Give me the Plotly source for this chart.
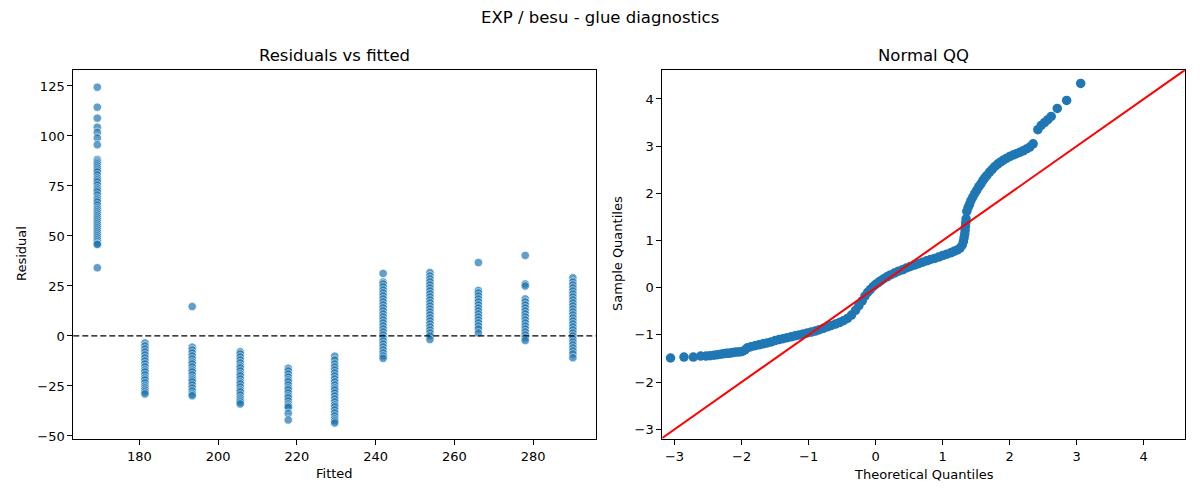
import plotly.graph_objects as go

# residuals vs fitted: one column of residuals per fitted level
fitted_levels = [169.3, 181.4, 193.4, 205.6, 217.8, 229.6, 241.9, 253.8, 266.1, 278.0, 290.1]
residual_cols = [
    [124.4, 114.4, 108.9, 104.4, 101.8, 99.0, 95.6, 88.3, 87.5, 86.8, 86, 85, 84, 83, 82, 80.5,
     79, 78, 77, 75.5, 74, 73, 72, 70.5, 69, 68, 67, 65.5, 64, 63, 62, 61, 60, 59, 58, 57, 56,
     55, 54, 53, 52, 51, 50, 49, 48, 47, 46, 45.8, 34.1],
    [-3.5, -5, -6.5, -8, -9.5, -11, -12.5, -14, -15.5, -17, -18, -19.5, -21, -22, -23.5, -25,
     -26, -27, -28, -29],
    [14.7, -5.6, -7, -8.5, -10, -11.5, -13, -14, -15.5, -17, -18, -19.5, -21, -22, -23, -24.5,
     -26, -27.5, -29, -29.9],
    [-7.9, -9, -10.5, -12, -13.5, -15, -16, -17.5, -19, -20, -21.5, -23, -24, -25.5, -27, -28,
     -29.5, -31, -32, -33, -34],
    [-16.2, -17.5, -19, -20.5, -22, -23, -24.5, -26, -27, -28.5, -30, -31, -32.5, -34, -35,
     -35.7, -38.7, -42],
    [-10.1, -12, -14, -15.5, -17, -18.5, -20, -21.5, -23, -24.5, -26, -27, -28.5, -30, -31.5,
     -33, -34.5, -35.5, -37, -38.5, -40, -41.5, -42.5, -43.5],
    [31.3, 27, 26, 24.5, 23, 21.5, 20, 18.5, 17, 15.5, 14, 12.5, 11, 9.5, 8, 6.5, 5, 3.5, 2,
     0.5, -1, -2.5, -4, -5.5, -7, -8.5, -10, -11.2],
    [31.7, 30, 28.5, 27, 25.5, 24, 22.5, 21, 19.5, 18, 16.5, 15, 13.5, 12, 10.5, 9, 7.5, 6,
     4.5, 3, 1.5, 0, -1.8],
    [36.7, 22.7, 21.5, 20, 18.5, 17, 15.5, 14, 12.5, 11, 9.5, 8, 6.5, 5, 3.5, 1.5],
    [40.3, 26, 25, 18.5, 17, 15.5, 14, 12.5, 11, 9.5, 8, 6.5, 5, 3.5, 2, 0.5, -1, -2.3],
    [29.1, 27, 25.5, 24, 22.5, 21, 19.5, 18, 16.5, 15, 13.5, 12, 10.5, 9, 7.5, 6, 4.5, 3, 1.5,
     0, -1.5, -3, -4.5, -6, -7.5, -9, -10.9],
]

# normal QQ points (theoretical, sample)
qq_theo = [-3.06, -2.86, -2.72, -2.61, -2.53, -2.47, -2.41, -2.36, -2.31, -2.27, -2.23, -2.19,
           -2.15, -2.11, -2.07, -2.03, -1.99, -1.95, -1.91, -1.86, -1.80, -1.74, -1.68, -1.62,
           -1.56, -1.50, -1.44, -1.38, -1.32, -1.26, -1.20, -1.14, -1.08, -1.02, -0.96, -0.90,
           -0.84, -0.78, -0.72, -0.66, -0.60, -0.54, -0.48, -0.42, -0.36, -0.30, -0.25, -0.20,
           -0.16, -0.12, -0.08, -0.04, 0.00, 0.04, 0.08, 0.12, 0.17, 0.22, 0.28, 0.34, 0.40,
           0.46, 0.52, 0.58, 0.64, 0.70, 0.76, 0.82, 0.88, 0.94, 1.00, 1.06, 1.12, 1.17, 1.22,
           1.26, 1.29, 1.31, 1.32, 1.33, 1.335, 1.34, 1.345, 1.35,
           1.36, 1.38, 1.40, 1.42, 1.45, 1.48, 1.51, 1.54, 1.57, 1.60, 1.63, 1.66, 1.70, 1.74,
           1.78, 1.82, 1.86, 1.90, 1.95, 2.00, 2.05, 2.10, 2.15, 2.20, 2.25, 2.30, 2.35,
           2.42, 2.47, 2.52, 2.57, 2.62, 2.71, 2.85, 3.06]
qq_samp = [-1.49, -1.47, -1.47, -1.45, -1.45, -1.44, -1.43, -1.42, -1.41, -1.40, -1.39, -1.39,
           -1.38, -1.37, -1.36, -1.36, -1.35, -1.32, -1.27, -1.25, -1.23, -1.21, -1.19, -1.17,
           -1.15, -1.12, -1.10, -1.08, -1.06, -1.04, -1.02, -1.00, -0.98, -0.96, -0.94, -0.92,
           -0.89, -0.86, -0.83, -0.80, -0.77, -0.74, -0.70, -0.65, -0.58, -0.48, -0.38, -0.28,
           -0.18, -0.10, -0.04, 0.02, 0.07, 0.11, 0.15, 0.19, 0.23, 0.27, 0.31, 0.35, 0.38,
           0.42, 0.45, 0.48, 0.51, 0.54, 0.57, 0.60, 0.62, 0.65, 0.68, 0.71, 0.74, 0.77, 0.80,
           0.84, 0.90, 0.98, 1.06, 1.14, 1.22, 1.30, 1.38, 1.46,
           1.62, 1.70, 1.76, 1.84, 1.92, 2.00, 2.07, 2.14, 2.20, 2.27, 2.33, 2.38, 2.45, 2.51,
           2.57, 2.62, 2.66, 2.70, 2.74, 2.78, 2.81, 2.84, 2.87, 2.90, 2.94, 2.98, 3.05,
           3.35, 3.44, 3.50, 3.56, 3.63, 3.80, 3.97, 4.33]

qq_lim = [-3.183, 4.616]

fx, fy = [], []
for lvl, col in zip(fitted_levels, residual_cols):
    fx += [lvl] * len(col)
    fy += col

blue = "#1f77b4"
font = "DejaVu Sans"

# page body has an 8px margin, so lay out in a 1192x492 canvas
W, H, OFF = 1192, 492, 8


def px(x):
    return (x - OFF) / W


def py(y):
    return 1 - (y - OFF) / H


fig = go.Figure()
fig.add_trace(go.Scatter(x=fx, y=fy, mode="markers", xaxis="x", yaxis="y",
                         marker=dict(size=8.5, color=blue, opacity=0.7,
                                     line=dict(color="white", width=0.8)),
                         showlegend=False))
fig.add_trace(go.Scatter(x=qq_theo, y=qq_samp, mode="markers", xaxis="x2", yaxis="y2",
                         marker=dict(size=9.5, color=blue), showlegend=False))
fig.add_trace(go.Scatter(x=qq_lim, y=qq_lim, mode="lines", xaxis="x2", yaxis="y2",
                         line=dict(color="red", width=2), showlegend=False))

fig.add_shape(type="line", xref="x domain", yref="y", x0=0, x1=1, y0=0, y1=0,
              line=dict(color="black", width=1.3, dash="6px,3px"))

axis_style = dict(showline=True, linecolor="black", linewidth=1, mirror=True,
                  ticks="outside", ticklen=5, tickcolor="black", showgrid=False,
                  zeroline=False, tickfont=dict(size=13, color="black"))

fig.update_layout(
    width=W, height=H,
    margin=dict(l=0, r=0, t=0, b=0),
    plot_bgcolor="white", paper_bgcolor="white",
    font=dict(family=font, color="black"),
    xaxis=dict(domain=[px(73.3), px(595.7)], range=[163.2, 295.9],
               tickvals=[180, 200, 220, 240, 260, 280], **axis_style),
    yaxis=dict(domain=[py(442.7), py(70.7)], range=[-51.6, 132.9],
               tickvals=[-50, -25, 0, 25, 50, 75, 100, 125], **axis_style),
    xaxis2=dict(domain=[px(662.3), px(1185)], range=qq_lim, anchor="y2",
                tickvals=[-3, -2, -1, 0, 1, 2, 3, 4], **axis_style),
    yaxis2=dict(domain=[py(442.7), py(70.7)], range=[-3.21, 4.61], anchor="x2",
                tickvals=[-3, -2, -1, 0, 1, 2, 3, 4], **axis_style),
)

notes = [
    dict(text="EXP / besu - glue diagnostics", x=600, y=18, size=16.5),
    dict(text="Residuals vs fitted", x=(73.3 + 595.7) / 2, y=56, size=16.5),
    dict(text="Normal QQ", x=(662.3 + 1185) / 2, y=56, size=16.5),
    dict(text="Fitted", x=(73.3 + 595.7) / 2, y=477, size=13),
    dict(text="Theoretical Quantiles", x=(662.3 + 1185) / 2, y=478, size=13),
]
for n in notes:
    fig.add_annotation(text=n["text"], x=px(n["x"]), y=py(n["y"]), xref="paper", yref="paper",
                       showarrow=False, xanchor="center", yanchor="middle",
                       font=dict(size=n["size"], family=font, color="black"))
for text, x in [("Residual", 22), ("Sample Quantiles", 618)]:
    fig.add_annotation(text=text, x=px(x), y=py(256), xref="paper", yref="paper",
                       showarrow=False, textangle=-90, xanchor="center", yanchor="middle",
                       font=dict(size=13, family=font, color="black"))

fig.write_html("out.html")
